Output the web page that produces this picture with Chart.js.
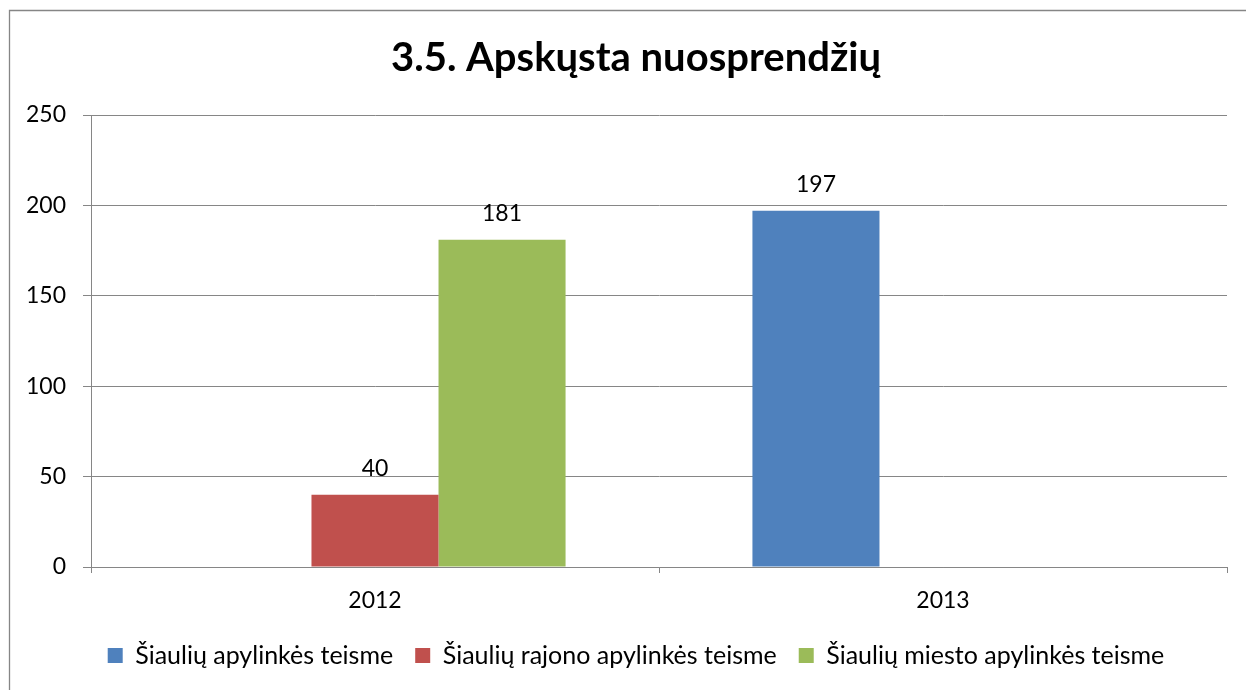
<!DOCTYPE html>
<html>
<head>
<meta charset="utf-8">
<script src="https://cdn.jsdelivr.net/npm/chart.js@4.4.1/dist/chart.umd.min.js"></script>
<style>
  html, body { margin: 0; padding: 0; background: #fff; }
  #wrap { width: 1246px; height: 690px; }
</style>
</head>
<body>
<div id="wrap"><canvas id="c" width="1246" height="690"></canvas></div>
<script>
// chart data
const years = ['2012', '2013'];
const apylinkes = [null, 197];
const rajono = [40, null];
const miesto = [181, null];
const yTicks = [0, 50, 100, 150, 200, 250];

const gridGray = '#868686';
const fontFamily = 'Lato, "Open Sans", sans-serif';

// value labels above bars
const barLabels = {
  id: 'barLabels',
  afterDatasetsDraw(chart) {
    const ctx = chart.ctx;
    ctx.save();
    ctx.font = '23px ' + fontFamily;
    ctx.fillStyle = '#000';
    ctx.textAlign = 'center';
    ctx.textBaseline = 'middle';
    chart.data.datasets.forEach((ds, i) => {
      chart.getDatasetMeta(i).data.forEach((bar, j) => {
        const v = ds.data[j];
        if (v === null || v === undefined) return;
        ctx.fillText(String(v), bar.x, bar.y - 26);
      });
    });
    ctx.restore();
  }
};

// outer frame of the chart object (cut off at right/bottom)
const frame = {
  id: 'frame',
  beforeDraw(chart) {
    const ctx = chart.ctx;
    ctx.save();
    ctx.strokeStyle = gridGray;
    ctx.lineWidth = 1.3;
    ctx.beginPath();
    ctx.moveTo(9.5, 690);
    ctx.lineTo(9.5, 10.5);
    ctx.lineTo(1246, 10.5);
    ctx.stroke();
    ctx.restore();
  },
  // let the y labels draw left of the padded area (they get clipped to the scale box)
  afterLayout(chart) {
    chart.scales.y.left = 0;
  }
};

new Chart(document.getElementById('c'), {
  type: 'bar',
  data: {
    labels: years,
    datasets: [
      { label: 'Šiaulių apylinkės teisme', data: apylinkes, backgroundColor: '#4F81BD' },
      { label: 'Šiaulių rajono apylinkės teisme', data: rajono, backgroundColor: '#C0504D' },
      { label: 'Šiaulių miesto apylinkės teisme', data: miesto, backgroundColor: '#9BBB59' },
    ],
  },
  options: {
    responsive: false,
    animation: false,
    categoryPercentage: 0.671,
    barPercentage: 1,
    layout: {
      padding: { top: 0, left: 45, right: 19, bottom: 12 },
    },
    scales: {
      x: {
        grid: {
          drawOnChartArea: false,
          drawTicks: true,
          tickLength: 6,
          color: gridGray,
        },
        border: { color: gridGray },
        ticks: {
          color: '#000',
          font: { family: fontFamily, size: 23 },
          padding: 14,
        },
        afterFit: (s) => { s.height = 54; },
      },
      y: {
        min: 0,
        max: 250,
        afterBuildTicks: (s) => { s.ticks = yTicks.map(v => ({ value: v })); },
        grid: {
          color: gridGray,
          tickLength: 8,
        },
        border: { color: gridGray },
        ticks: {
          color: '#000',
          font: { family: fontFamily, size: 23 },
          padding: 17,
        },
        afterFit: (s) => { s.width = 46; },
      },
    },
    plugins: {
      title: {
        display: true,
        text: '3.5. Apskųsta nuosprendžių',
        color: '#000',
        font: { family: fontFamily, size: 40, weight: 'bold' },
        padding: { top: 34, bottom: 33 },
      },
      legend: {
        position: 'bottom',
        labels: {
          color: '#000',
          font: { family: fontFamily, size: 25 },
          boxWidth: 15,
          boxHeight: 15,
          padding: 22,
        },
      },
      tooltip: { enabled: false },
    },
  },
  plugins: [frame, barLabels],
});
</script>
</body>
</html>
